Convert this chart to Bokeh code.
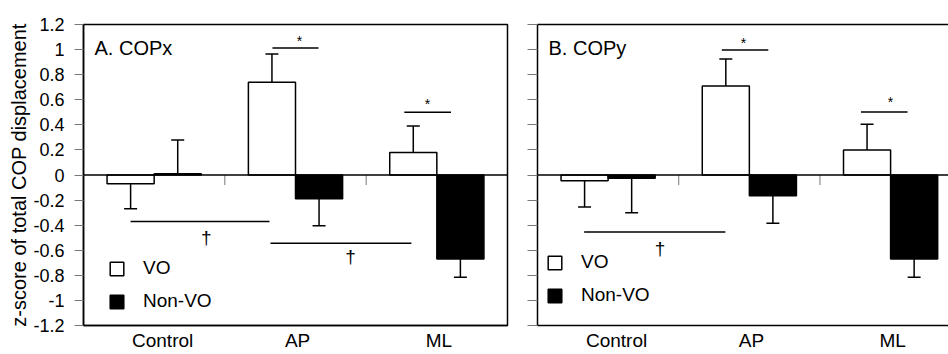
import numpy as np
from bokeh.plotting import figure
from bokeh.layouts import row
from bokeh.models import (ColumnDataSource, FixedTicker, LinearAxis, Range1d,
                          Legend, LegendItem, Span)
from bokeh.core.properties import value
from bokeh.embed import file_html
from bokeh.resources import INLINE

FONT = "Liberation Sans"

# ---------------- data ----------------
categories = ["Control", "AP", "ML"]
series_names = ["VO", "Non-VO"]

copx_vo = [-0.07, 0.74, 0.18]
copx_vo_sd = [0.20, 0.225, 0.21]
copx_nonvo = [0.01, -0.19, -0.67]
copx_nonvo_sd = [0.27, 0.215, 0.145]

copy_vo = [-0.045, 0.71, 0.20]
copy_vo_sd = [0.21, 0.215, 0.205]
copy_nonvo = [-0.025, -0.165, -0.67]
copy_nonvo_sd = [0.275, 0.22, 0.145]

y_ticks = [-1.2, -1.0, -0.8, -0.6, -0.4, -0.2, 0.0, 0.2, 0.4, 0.6, 0.8, 1.0, 1.2]
y_tick_labels = ["-1.2", "-1", "-0.8", "-0.6", "-0.4", "-0.2", "0",
                 "0.2", "0.4", "0.6", "0.8", "1", "1.2"]

# significance markers (bracket lines and symbols)
copx_sig_x0 = [1.337, 2.27, 0.333, 1.323]
copx_sig_x1 = [1.663, 2.60, 1.316, 2.32]
copx_sig_y = [1.012, 0.50, -0.371, -0.545]
copx_sym = ["*", "*", "\u2020", "\u2020"]
copx_sym_x = [1.528, 2.434, 0.868, 1.889]
copx_sym_y = [1.07, 0.57, -0.50, -0.65]

copy_sig_x0 = [1.305, 2.29, 0.33]
copy_sig_x1 = [1.634, 2.62, 1.33]
copy_sig_y = [0.996, 0.503, -0.455]
copy_sym = ["*", "*", "\u2020"]
copy_sym_x = [1.459, 2.50, 0.867]
copy_sym_y = [1.055, 0.585, -0.585]

cat_label_x = [0.56, 1.515, 2.515]


def make_panel(vo, vo_sd, nonvo, nonvo_sd, sig_x0, sig_x1, sig_y,
               sym, sym_x, sym_y, title, width, x_end, left, right, top,
               bottom, full_axis, legend_loc):
    p = figure(width=width, height=354, output_backend="svg",
               toolbar_location=None, x_range=Range1d(0, x_end),
               y_range=Range1d(-1.2, 1.2), min_border_left=left,
               min_border_right=right, min_border_top=top,
               min_border_bottom=bottom, background_fill_color="white",
               border_fill_color="white")
    p.xgrid.visible = False
    p.ygrid.visible = False

    centers = np.arange(len(categories)) + 0.5
    vo_x = centers - 1 / 6
    nv_x = centers + 1 / 6

    r_vo = p.vbar(x=vo_x, top=vo, bottom=0, width=1 / 3, fill_color="white",
                  line_color="black", line_width=1.5)
    r_nv = p.vbar(x=nv_x, top=nonvo, bottom=0, width=1 / 3,
                  fill_color="black", line_color="black", line_width=1.5)

    # zero line
    p.add_layout(Span(location=0, dimension="width", line_color="black",
                      line_width=1.5))
    # category divider ticks on the zero line
    p.segment(x0=[1, 2], y0=[0, 0], x1=[1, 2], y1=[-0.08, -0.08],
              line_color="#777777", line_width=1)

    # one-sided error bars
    xs = np.concatenate([vo_x, nv_x])
    vals = np.array(list(vo) + list(nonvo))
    sds = np.array(list(vo_sd) + list(nonvo_sd))
    ends = vals + np.where(vals >= 0, 1, -1) * sds
    p.segment(x0=xs, y0=vals, x1=xs, y1=ends, line_color="black",
              line_width=1.5)
    p.segment(x0=xs - 0.046, y0=ends, x1=xs + 0.046, y1=ends,
              line_color="black", line_width=1.5)

    # significance brackets
    p.segment(x0=sig_x0, y0=sig_y, x1=sig_x1, y1=sig_y, line_color="black",
              line_width=1.5)
    sizes = ["14px" if s == "*" else "19px" for s in sym]
    src_sym = ColumnDataSource(dict(x=sym_x, y=sym_y, text=sym, size=sizes))
    p.text(x="x", y="y", text="text", text_font=value(FONT),
           text_font_size="size", text_color="black", text_align="center",
           text_baseline="middle", source=src_sym)

    # panel title
    p.text(x=[0.078], y=[1.01], text=[title], text_font=value(FONT),
           text_font_size="20px", text_color="black", text_align="left",
           text_baseline="middle")

    # category axis (bottom)
    xa = p.xaxis[0]
    xa.ticker = FixedTicker(ticks=cat_label_x, minor_ticks=[])
    xa.major_label_overrides = dict(zip(cat_label_x, categories))
    xa.major_tick_line_color = None
    xa.minor_tick_line_color = None
    xa.major_tick_in = 0
    xa.major_tick_out = 0
    xa.major_label_standoff = 4
    xa.major_label_text_font = FONT
    xa.major_label_text_font_size = "19px"
    xa.major_label_text_color = "black"
    xa.axis_line_color = "black"
    xa.axis_line_width = 1.5

    # y axis
    ya = p.yaxis[0]
    ya.axis_line_color = "black"
    ya.axis_line_width = 1.5
    if full_axis:
        ya.ticker = FixedTicker(ticks=y_ticks, minor_ticks=[])
        ya.minor_tick_line_color = None
        ya.major_tick_in = 0
        ya.major_tick_out = 9
        ya.major_tick_line_color = "#777777"
        ya.major_tick_line_width = 1
        ya.major_label_overrides = dict(zip(y_ticks, y_tick_labels))
        ya.major_label_text_font = FONT
        ya.major_label_text_font_size = "18px"
        ya.major_label_text_color = "black"
        ya.major_label_standoff = 10
        ya.axis_label = "z-score of total COP displacement"
        ya.axis_label_text_font = FONT
        ya.axis_label_text_font_size = "20px"
        ya.axis_label_text_font_style = "normal"
        ya.axis_label_text_color = "black"
        ya.axis_label_standoff = 0
        p.outline_line_color = "black"
        p.outline_line_width = 1.5
        p.outline_line_alpha = 1
    else:
        # ticks only (as minor ticks, which carry no labels)
        ya.ticker = FixedTicker(ticks=[], minor_ticks=y_ticks)
        ya.major_tick_line_color = None
        ya.minor_tick_in = 0
        ya.minor_tick_out = 10
        ya.minor_tick_line_color = "#777777"
        ya.minor_tick_line_width = 1
        top_ax = LinearAxis(ticker=FixedTicker(ticks=[], minor_ticks=[]),
                            major_tick_line_color=None,
                            minor_tick_line_color=None,
                            axis_line_color="black", axis_line_width=1.5)
        p.add_layout(top_ax, "above")
        p.outline_line_color = None

    legend = Legend(items=[LegendItem(label=series_names[0], renderers=[r_vo]),
                           LegendItem(label=series_names[1], renderers=[r_nv])],
                    location=legend_loc, orientation="vertical",
                    background_fill_alpha=0, border_line_alpha=0, padding=0,
                    margin=0, spacing=11, glyph_height=17, glyph_width=17,
                    label_standoff=18, label_height=22,
                    label_text_font=FONT, label_text_font_size="19px",
                    label_text_color="black")
    p.add_layout(legend)
    return p


pA = make_panel(copx_vo, copx_vo_sd, copx_nonvo, copx_nonvo_sd, copx_sig_x0,
                copx_sig_x1, copx_sig_y, copx_sym, copx_sym_x, copx_sym_y,
                "A. COPx", 517, 3.0, 83, 10, 24, 27, True, (25, 13))
pB = make_panel(copy_vo, copy_vo_sd, copy_nonvo, copy_nonvo_sd, copy_sig_x0,
                copy_sig_x1, copy_sig_y, copy_sym, copy_sym_x, copy_sym_y,
                "B. COPy", 431, 2.91, 20, 0, 22, 29, False, (9, 19))

layout = row(pA, pB, spacing=0)
open("out.html", "w").write(file_html(layout, INLINE))
